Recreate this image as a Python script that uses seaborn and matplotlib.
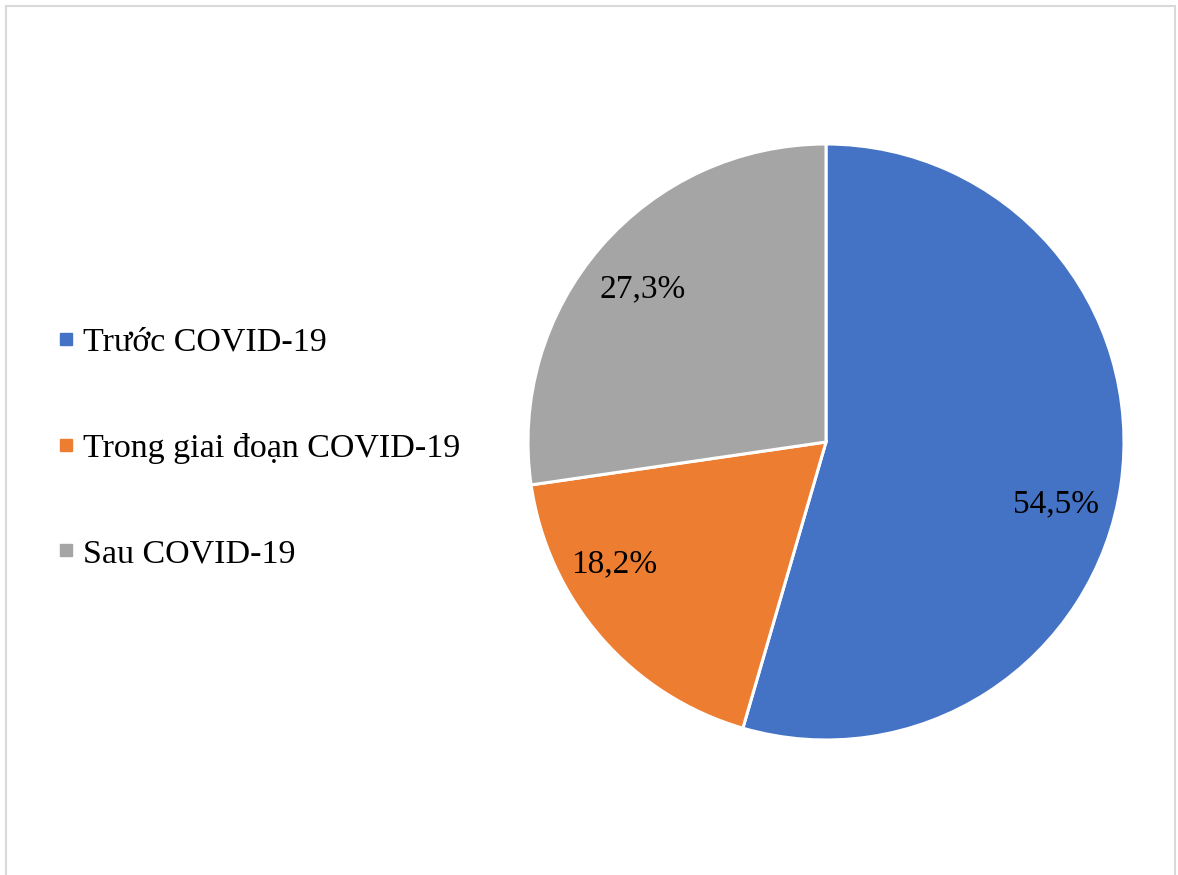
import matplotlib
matplotlib.use("Agg")
import matplotlib.pyplot as plt
from matplotlib.lines import Line2D
from matplotlib.patches import Rectangle
import numpy as np
import seaborn as sns

# Share of cases by period
categories = ["Trước COVID-19", "Trong giai đoạn COVID-19", "Sau COVID-19"]
values = [54.5, 18.2, 27.3]
value_labels = ["54,5%", "18,2%", "27,3%"]
colors = ["#4472C4", "#ED7D31", "#A5A5A5"]

# Label placement: (radius fraction, angular offset in degrees from wedge middle)
label_layout = [(0.80, -7.0), (0.82, -11.0), (0.80, 1.0)]

sns.set_theme(style="white")
plt.rcParams["font.family"] = ["Liberation Serif", "DejaVu Serif"]

W, H = 1178, 875
fig = plt.figure(figsize=(W / 100, H / 100), dpi=100)
fig.patch.set_facecolor("white")

cx, cy, r = 826, 442, 298
ax = fig.add_axes([(cx - r) / W, (H - cy - r) / H, 2 * r / W, 2 * r / H])

wedges, _ = ax.pie(
    values,
    colors=colors,
    startangle=90,
    counterclock=False,
    radius=1.0,
    wedgeprops=dict(edgecolor="white", linewidth=2.2),
)
ax.set_xlim(-1, 1)
ax.set_ylim(-1, 1)
ax.set_aspect("equal")
ax.axis("off")

for w, txt, (rf, off) in zip(wedges, value_labels, label_layout):
    mid = np.deg2rad((w.theta1 + w.theta2) / 2 + off)
    ax.text(rf * np.cos(mid), rf * np.sin(mid), txt, ha="center", va="center",
            fontsize=24, color="black")

handles = [Line2D([0], [0], marker="s", linestyle="none", markersize=8.5,
                  markerfacecolor=c, markeredgecolor=c) for c in colors]
fig.legend(handles, categories, loc="center left",
           bbox_to_anchor=(56 / W, 1 - 448 / H), frameon=False,
           fontsize=24.5, labelspacing=2.2, handlelength=0.6, handletextpad=0.2,
           borderpad=0, borderaxespad=0, labelcolor="black")

# Light outer frame
fig.add_artist(Rectangle((6 / W, -0.02), (1175 - 6) / W, 1.02 - 6 / H,
                         transform=fig.transFigure, fill=False,
                         edgecolor="#D9D9D9", linewidth=1.5))

fig.savefig("out.png", dpi=100, facecolor="white")
